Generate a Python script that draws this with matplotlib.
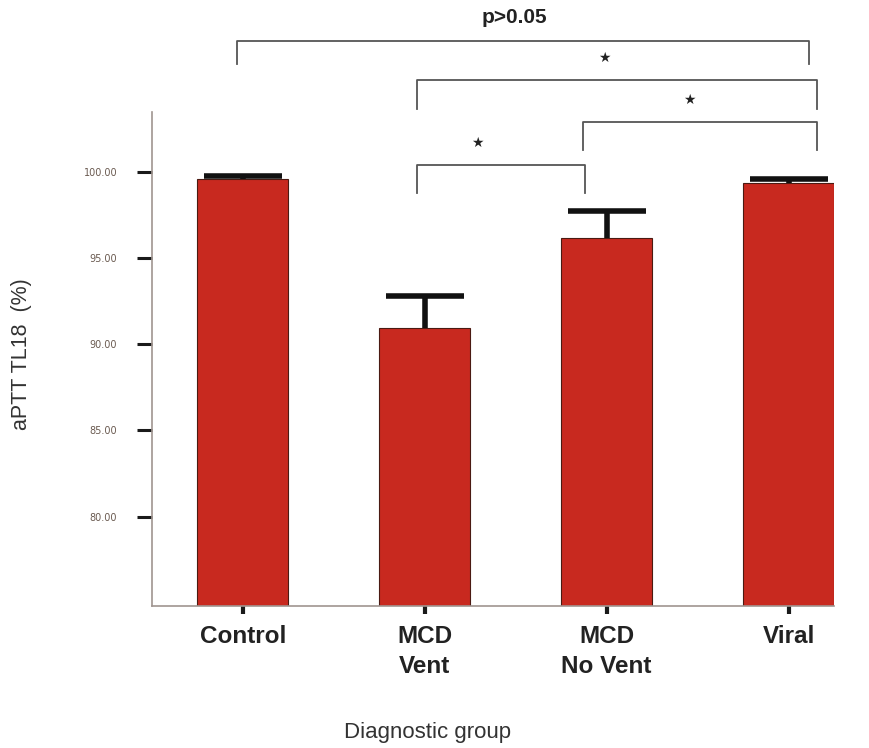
import matplotlib
matplotlib.use("Agg")
import matplotlib.pyplot as plt
import numpy as np

categories = ["Control", "MCD\nVent", "MCD\nNo Vent", "Viral"]
means = [99.6, 90.95, 96.2, 99.4]
errors = [0.2, 1.85, 1.55, 0.22]
yticks = [80, 85, 90, 95, 100]
ytick_labels = ["80.00", "85.00", "90.00", "95.00", "100.00"]

# comparisons: (group a, group b, bracket top, bracket bottom, label)
comparisons = [
    (0, 3, 107.65, 106.3, "p>0.05"),
    (1, 3, 105.33, 103.7, "*"),
    (2, 3, 102.9, 101.3, "*"),
    (1, 2, 100.41, 98.8, "*"),
]
end_offsets = {(0, 3): (-0.033, 0.115), (1, 3): (-0.044, 0.159),
               (2, 3): (-0.132, 0.159), (1, 2): (-0.044, -0.121)}
label_shift = {(0, 3): -0.05, (1, 3): -0.07, (2, 3): -0.06, (1, 2): -0.13}

fig = plt.figure(figsize=(8.7, 7.48), dpi=100)
ax = fig.add_axes([0.1747, 0.1898, 0.7839, 0.6605])

x = np.arange(len(categories))
ax.bar(x, means, width=0.5, color="#c8291f", edgecolor="#4a1a12", linewidth=0.8, zorder=2)
eb = ax.errorbar(x, means, yerr=[np.zeros(len(errors)), errors], fmt="none",
                 ecolor="#111111", elinewidth=4, capsize=28, capthick=4, zorder=3)
eb[1][0].set_visible(False)

ax.set_xlim(-0.5, 3.25)
ax.set_ylim(74.8, 103.5)
ax.set_yticks(yticks)
ax.set_yticklabels(ytick_labels, fontsize=7, color="#6a5a50", family="DejaVu Sans")
ax.set_xticks(x)
ax.set_xticklabels(categories, fontsize=17.5, fontweight="bold", color="#222222",
                   family="Liberation Sans", linespacing=1.35)
ax.tick_params(axis="y", direction="out", length=11, width=2.2, color="#1a1a1a", pad=14)
ax.tick_params(axis="x", direction="out", length=6, width=3, color="#1a1a1a", pad=8)

for s in ["top", "right"]:
    ax.spines[s].set_visible(False)
ax.spines["left"].set_color("#a09590")
ax.spines["left"].set_linewidth(1.2)
ax.spines["bottom"].set_color("#a09590")
ax.spines["bottom"].set_linewidth(1.2)

for a, b, top, bot, lab in comparisons:
    oa, ob = end_offsets[(a, b)]
    xa, xb = a + oa, b + ob
    ax.plot([xa, xa, xb, xb], [bot, top, top, bot], color="#555555", lw=1.3,
            clip_on=False, zorder=4)
    xm = (xa + xb) / 2 + label_shift[(a, b)]
    if lab == "*":
        ax.text(xm, top + 1.3, "★", ha="center", va="center", fontsize=10,
                color="#222222", family="DejaVu Sans", clip_on=False)
    else:
        ax.text(xm, top + 1.35, lab, ha="center", va="center", fontsize=15,
                fontweight="bold", color="#222222", family="Liberation Sans", clip_on=False)

fig.text(0.025, 0.527, "aPTT TL18  (%)", rotation=90, ha="center", va="center",
         fontsize=15.5, color="#333333", family="Liberation Sans")
fig.text(0.491, 0.021, "Diagnostic group", ha="center", va="center",
         fontsize=16, color="#333333", family="Liberation Sans")

fig.savefig("out.png", dpi=100, facecolor="white")
